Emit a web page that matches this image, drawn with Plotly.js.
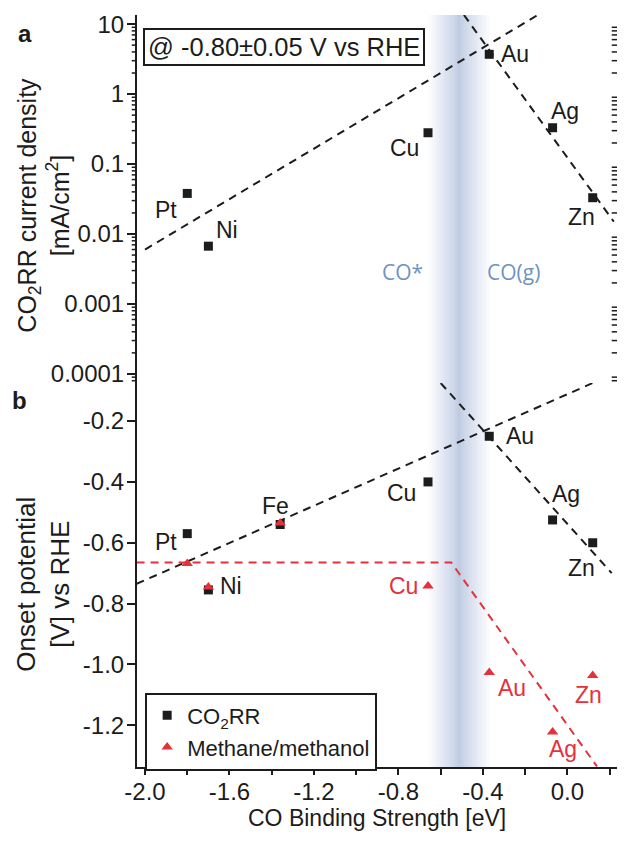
<!DOCTYPE html>
<html>
<head>
<meta charset="utf-8">
<script src="https://cdn.plot.ly/plotly-3.0.1.min.js"></script>
<style>
  html, body { margin: 0; padding: 0; background: #fff; }
  #chart { width: 634px; height: 844px; }
</style>
</head>
<body>
<div id="chart"></div>
<script>
'use strict'
/* CO binding strength vs CO2RR activity (a) and onset potential (b) */

/* Data */
var topMetals = ['Pt', 'Ni', 'Cu', 'Au', 'Ag', 'Zn'];
var topBinding = [-1.80, -1.70, -0.66, -0.37, -0.07, 0.12];
var topCurrent = [0.038, 0.0067, 0.28, 3.7, 0.33, 0.033];

var botMetals = ['Pt', 'Ni', 'Fe', 'Cu', 'Au', 'Ag', 'Zn'];
var botBinding = [-1.80, -1.70, -1.36, -0.66, -0.37, -0.07, 0.12];
var onsetCO2RR = [-0.57, -0.755, -0.54, -0.40, -0.25, -0.525, -0.60];
var onsetMethane = [-0.668, -0.745, -0.535, -0.742, -1.026, -1.222, -1.036];

/* dashed trend lines (end points) */
var topFitLeftX = [-2.0, -0.14], topFitLeftY = [0.006, 13.5];
var topFitRightX = [-0.49, 0.22], topFitRightY = [13.5, 0.015];
var botFitLeftX = [-2.04, 0.12], botFitLeftY = [-0.735, -0.075];
var botFitRightX = [-0.60, 0.21], botFitRightY = [-0.075, -0.70];
var methFitX = [-2.04, -0.55, 0.14], methFitY = [-0.665, -0.665, -1.335];

/* tick labels */
var xTickVals = [-2.0, -1.6, -1.2, -0.8, -0.4, 0.0];
var xTickText = ['-2.0', '-1.6', '-1.2', '-0.8', '-0.4', '0.0'];
var topTickVals = [0.0001, 0.001, 0.01, 0.1, 1, 10];
var topTickText = ['0.0001', '0.001', '0.01', '0.1', '1', '10'];
var botTickVals = [-1.2, -1.0, -0.8, -0.6, -0.4, -0.2];
var botTickText = ['-1.2', '-1.0', '-0.8', '-0.6', '-0.4', '-0.2'];

/* label offsets in pixels [xshift, yshift] */
var topShift = [[-21, -17], [19, 16], [-24, -15], [26, 0], [12, 17], [-11, -19]];
var botShift = [[-21, -8], [23, 4], [-5, 19], [-27, -11], [31, 0], [13, 26], [-11, -25]];
var redShift = [null, null, null, [-25, 0], [23, -16], [10, -17], [-4, -20]];

var FONT = 'Liberation Sans, Arial, sans-serif';
var INK = '#1c1c1c';
var RED = '#e5313a';
var split = 0.5106;

/* minor log ticks 2..9 of each decade (axis decoration only) */
var logMinor = [];
for (var d = -5; d <= 1; d++) {
    for (var k = 2; k <= 9; k++) logMinor.push(d + Math.log10(k));
}

function dashLine(x, y, yaxis, color) {
    return {
        type: 'scatter', mode: 'lines', x: x, y: y, yaxis: yaxis, showlegend: false,
        hoverinfo: 'skip', line: {color: color, width: 2, dash: '8px,6px'}
    };
}

var traces = [
    dashLine(topFitLeftX, topFitLeftY, 'y2', INK),
    dashLine(topFitRightX, topFitRightY, 'y2', INK),
    dashLine(botFitLeftX, botFitLeftY, 'y', INK),
    dashLine(botFitRightX, botFitRightY, 'y', INK),
    dashLine(methFitX, methFitY, 'y', RED),
    {
        type: 'scatter', mode: 'markers', x: topBinding, y: topCurrent, yaxis: 'y2',
        name: 'CO<sub>2</sub>RR', legendgroup: 'co2', showlegend: false,
        marker: {symbol: 'square', size: 9, color: INK}
    },
    {
        type: 'scatter', mode: 'markers', x: botBinding, y: onsetCO2RR, yaxis: 'y',
        name: 'CO<sub>2</sub>RR', legendgroup: 'co2',
        marker: {symbol: 'square', size: 9, color: INK}
    },
    {
        type: 'scatter', mode: 'markers', x: botBinding, y: onsetMethane, yaxis: 'y',
        name: 'Methane/methanol',
        marker: {symbol: 'triangle-up', size: 10, color: RED}
    }
];

/* element labels */
var annotations = [];
topMetals.forEach(function (m, i) {
    annotations.push({
        x: topBinding[i], y: Math.log10(topCurrent[i]), xref: 'x', yref: 'y2', text: m,
        showarrow: false, xshift: topShift[i][0], yshift: topShift[i][1],
        font: {family: FONT, size: 23, color: INK}
    });
});
botMetals.forEach(function (m, i) {
    annotations.push({
        x: botBinding[i], y: onsetCO2RR[i], xref: 'x', yref: 'y', text: m,
        showarrow: false, xshift: botShift[i][0], yshift: botShift[i][1],
        font: {family: FONT, size: 23, color: INK}
    });
    if (redShift[i]) {
        annotations.push({
            x: botBinding[i], y: onsetMethane[i], xref: 'x', yref: 'y', text: m,
            showarrow: false, xshift: redShift[i][0], yshift: redShift[i][1],
            font: {family: FONT, size: 23, color: RED}
        });
    }
});

annotations.push(
    {xref: 'paper', yref: 'paper', x: 0.0125, y: 0.983, xanchor: 'left', yanchor: 'top',
     text: '@ -0.80±0.05 V vs RHE', showarrow: false, bgcolor: '#fff',
     bordercolor: INK, borderwidth: 2, borderpad: 3, font: {family: FONT, size: 25.5, color: INK}},
    {xref: 'x', yref: 'y2', x: -0.78, y: Math.log10(0.0029), text: 'CO*', showarrow: false,
     font: {family: 'Open Sans, sans-serif', size: 21, color: '#6f93c2'}},
    {xref: 'x', yref: 'y2', x: -0.255, y: Math.log10(0.0029), text: 'CO(g)', showarrow: false,
     font: {family: 'Open Sans, sans-serif', size: 21, color: '#6f93c2'}},
    {xref: 'paper', yref: 'paper', x: -0.233, y: 0.976, xanchor: 'center', yanchor: 'middle',
     text: '<b>a</b>', showarrow: false, font: {family: FONT, size: 24, color: INK}},
    {xref: 'paper', yref: 'paper', x: -0.244, y: 0.488, xanchor: 'center', yanchor: 'middle',
     text: '<b>b</b>', showarrow: false, font: {family: FONT, size: 24, color: INK}},
    {xref: 'paper', yref: 'paper', x: -0.195, y: 0.747, xanchor: 'center', yanchor: 'middle',
     textangle: -90, text: 'CO<sub>2</sub>RR current density<br>[mA/cm<sup>2</sup>]',
     showarrow: false, font: {family: FONT, size: 25, color: INK}},
    {xref: 'paper', yref: 'paper', x: -0.195, y: 0.243, xanchor: 'center', yanchor: 'middle',
     textangle: -90, text: 'Onset potential<br>[V] vs RHE',
     showarrow: false, font: {family: FONT, size: 26, color: INK}},
    {xref: 'paper', yref: 'paper', x: 0.5, y: -0.068, xanchor: 'center', yanchor: 'middle',
     text: 'CO Binding Strength [eV]', showarrow: false,
     font: {family: FONT, size: 23, color: INK}}
);

/* blue shaded band between CO* and CO(g), built from stacked translucent strips */
var shapes = [];
var bandCenter = -0.512, bandHalf = 0.145, bandSteps = 15;
for (var i = 1; i <= bandSteps; i++) {
    var w = bandHalf * Math.pow(i / bandSteps, 1.4);
    shapes.push({
        type: 'rect', xref: 'x', yref: 'paper', x0: bandCenter - w, x1: bandCenter + w,
        y0: 0, y1: 1, layer: 'below', line: {width: 0}, fillcolor: 'rgba(100,140,210,0.034)'
    });
}

var xRange = [-2.038, 0.235];
var topRange = [-4.13, 1.13];
var botRange = [-1.337, -0.075];

/* small log minor ticks on both sides of panel a, as short line shapes */
logMinor.forEach(function (v) {
    if (v < topRange[0] || v > topRange[1]) return;
    var yp = (v - topRange[0]) / (topRange[1] - topRange[0]) * (1 - split) + split;
    shapes.push({type: 'line', xref: 'paper', yref: 'paper', x0: 0, x1: -0.011,
        y0: yp, y1: yp, line: {color: INK, width: 1.5}});
    shapes.push({type: 'line', xref: 'paper', yref: 'paper', x0: 1, x1: 0.989,
        y0: yp, y1: yp, line: {color: INK, width: 1.5}});
});

var axisBase = {
    showline: true, linecolor: INK, linewidth: 2, tickcolor: INK, tickwidth: 2,
    zeroline: false, showgrid: false, fixedrange: true,
    tickfont: {family: FONT, size: 24, color: INK}
};

function ax(extra) {
    return Object.assign({}, axisBase, extra);
}

var layout = {
    width: 634,
    height: 844,
    margin: {l: 137, r: 17, t: 15, b: 77},
    paper_bgcolor: '#fff',
    plot_bgcolor: 'rgba(0,0,0,0)',
    showlegend: true,
    legend: {
        x: 0.017, y: 0.099, xanchor: 'left', yanchor: 'top',
        bgcolor: '#fff', bordercolor: INK, borderwidth: 2,
        font: {family: FONT, size: 22, color: INK},
        itemwidth: 30, tracegroupgap: 0
    },
    xaxis: ax({range: xRange, anchor: 'y', side: 'bottom', ticks: 'outside', ticklen: 6,
        ticklabelstandoff: -4, tickmode: 'array', tickvals: xTickVals, ticktext: xTickText,
        minor: {ticks: 'outside', ticklen: 6, dtick: 0.2, tick0: 0, tickcolor: INK, tickwidth: 2}}),
    xaxis2: ax({range: xRange, overlaying: 'x', anchor: 'y', side: 'top', ticks: 'inside',
        ticklen: 7, dtick: 0.2, tick0: 0, showticklabels: false}),
    xaxis3: ax({range: xRange, overlaying: 'x', anchor: 'y2', side: 'top', ticks: 'inside',
        ticklen: 7, dtick: 0.2, tick0: 0, showticklabels: false}),
    yaxis: ax({domain: [0, split], range: botRange, anchor: 'x', side: 'left',
        ticks: 'outside', ticklen: 8, ticklabelstandoff: -2,
        tickmode: 'array', tickvals: botTickVals, ticktext: botTickText}),
    yaxis3: ax({range: botRange, overlaying: 'y', anchor: 'x', side: 'right',
        ticks: 'inside', ticklen: 8, dtick: 0.2, tick0: 0, showticklabels: false}),
    yaxis2: ax({domain: [split, 1], type: 'log', range: topRange, anchor: 'x', side: 'left',
        ticks: 'outside', ticklen: 8, ticklabelstandoff: -2,
        tickmode: 'array', tickvals: topTickVals, ticktext: topTickText}),
    yaxis4: ax({type: 'log', range: topRange, overlaying: 'y2', anchor: 'x', side: 'right',
        ticks: 'inside', ticklen: 8, tickmode: 'array', tickvals: topTickVals, showticklabels: false}),
    shapes: shapes,
    annotations: annotations
};

Plotly.newPlot('chart', traces, layout, {displayModeBar: false, staticPlot: true});
</script>
</body>
</html>
